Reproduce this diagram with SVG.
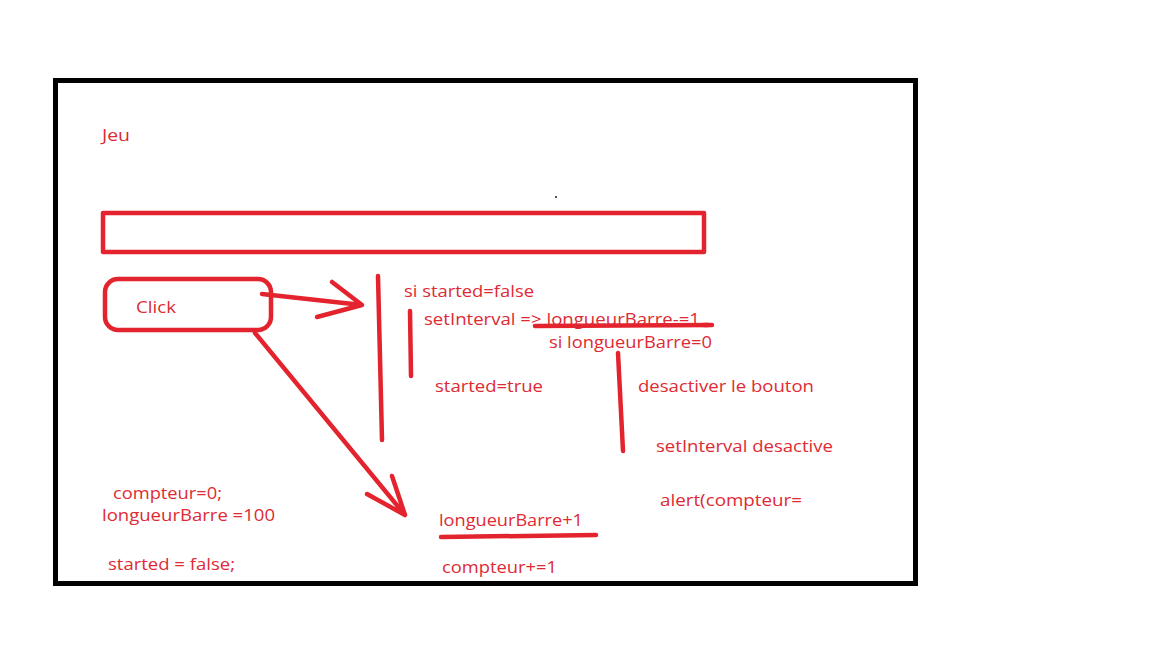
<svg xmlns="http://www.w3.org/2000/svg" width="1152" height="648" viewBox="0 0 1152 648">
<style>
.t{font-family:"Open Sans","Liberation Sans",sans-serif;font-size:16px;fill:#de2a33}
.s{stroke:#e3232d;stroke-width:4.5;fill:none;stroke-linecap:round;stroke-linejoin:round}
</style>
<rect width="1152" height="648" fill="#fff"/>
<rect x="55.5" y="80.5" width="860" height="503" fill="none" stroke="#000" stroke-width="5"/>
<circle cx="556" cy="197" r="0.9" fill="#000"/>
<g id="title"><text class="t" x="102" y="141" textLength="28" lengthAdjust="spacingAndGlyphs">Jeu</text></g>
<g id="bar"><rect class="s" x="103" y="213" width="601" height="39" stroke-width="4" stroke-linecap="butt" stroke-linejoin="miter"/></g>
<g id="click"><rect class="s" x="105" y="279" width="166" height="51" rx="13"/><text class="t" x="136" y="313" textLength="40" lengthAdjust="spacingAndGlyphs">Click</text></g>
<g id="connectors">
<path class="s" d="M262 294 L362 305 M332 282 L362 305 L317 317"/>
<path class="s" d="M378 276 L382 440"/>
<path class="s" d="M410 311 L411 376"/>
<path class="s" d="M535 326 L712 325"/>
<path class="s" d="M704 325 L708 325"/>
<path class="s" d="M618 353 L623 451"/>
<path class="s" d="M255 333 L405 515 M367 494 L405 515 L392 476"/>
<path class="s" d="M441 537 L596 535"/>
</g>
<g id="texts">
<text class="t" x="404" y="297" textLength="130" lengthAdjust="spacingAndGlyphs">si started=false</text>
<text class="t" x="424" y="325" textLength="276" lengthAdjust="spacingAndGlyphs">setInterval =&gt; longueurBarre-=1</text>
<text class="t" x="549" y="348" textLength="163" lengthAdjust="spacingAndGlyphs">si longueurBarre=0</text>
<text class="t" x="435" y="392" textLength="108" lengthAdjust="spacingAndGlyphs">started=true</text>
<text class="t" x="638" y="392" textLength="176" lengthAdjust="spacingAndGlyphs">desactiver le bouton</text>
<text class="t" x="656" y="452" textLength="177" lengthAdjust="spacingAndGlyphs">setInterval desactive</text>
<text class="t" x="660" y="506" textLength="142" lengthAdjust="spacingAndGlyphs">alert(compteur=</text>
<text class="t" x="113" y="499" textLength="109" lengthAdjust="spacingAndGlyphs">compteur=0;</text>
<text class="t" x="102" y="521" textLength="173" lengthAdjust="spacingAndGlyphs">longueurBarre =100</text>
<text class="t" x="439" y="526" textLength="144" lengthAdjust="spacingAndGlyphs">longueurBarre+1</text>
<text class="t" x="108" y="570" textLength="127" lengthAdjust="spacingAndGlyphs">started = false;</text>
<text class="t" x="442" y="573" textLength="115" lengthAdjust="spacingAndGlyphs">compteur+=1</text>
</g>
</svg>
